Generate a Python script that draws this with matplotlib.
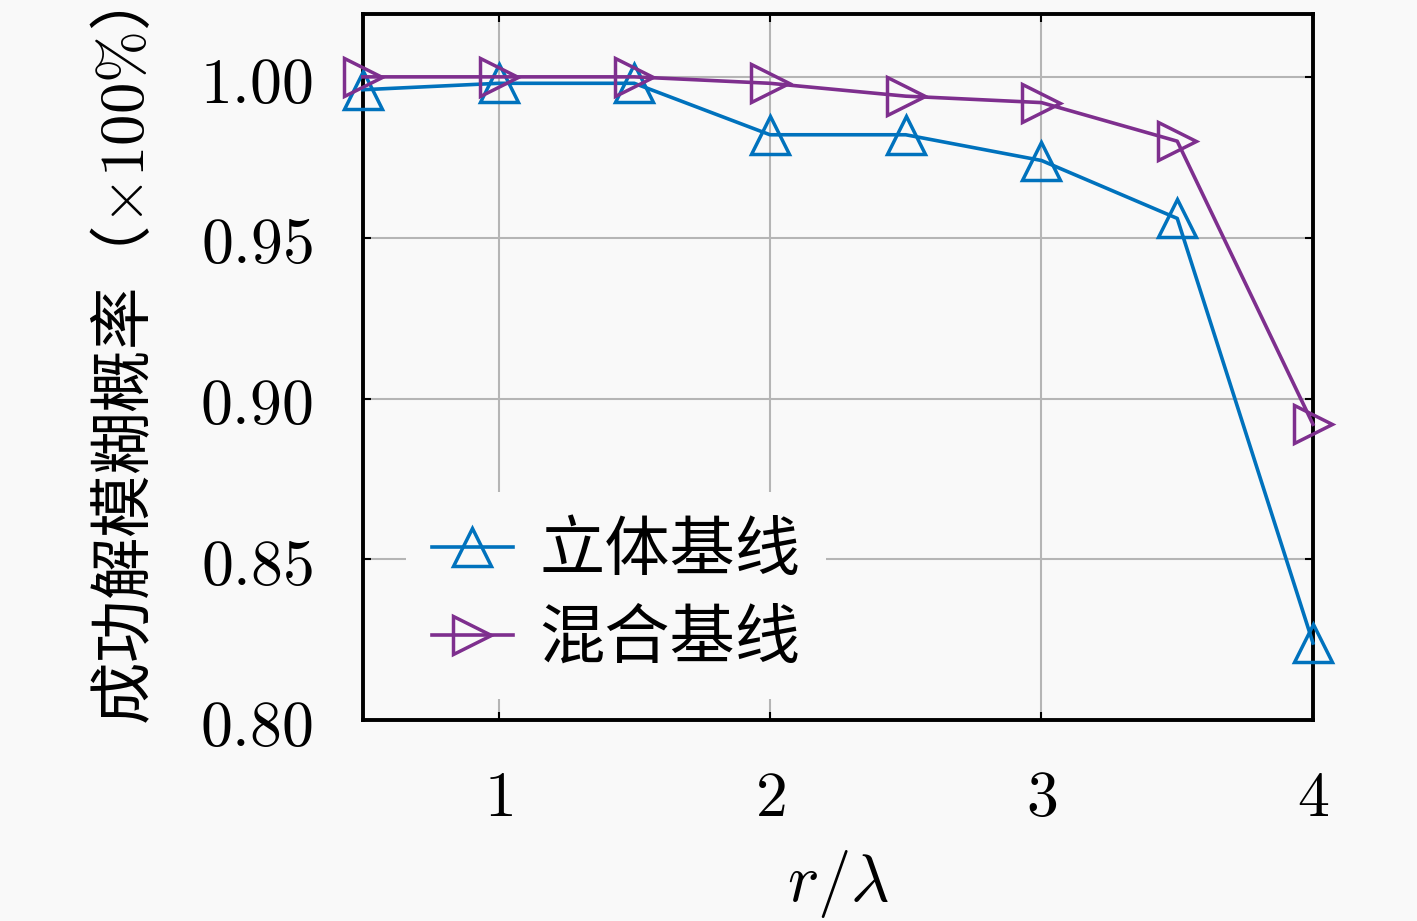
import matplotlib
matplotlib.use('Agg')
import matplotlib.pyplot as plt

plt.rcParams['font.family'] = ['Noto Sans CJK SC', 'DejaVu Sans']
plt.rcParams['mathtext.fontset'] = 'cm'

ratio = [0.5, 1.0, 1.5, 2.0, 2.5, 3.0, 3.5, 4.0]
stereo = [0.996, 0.998, 0.998, 0.982, 0.982, 0.974, 0.956, 0.824]
hybrid = [1.000, 1.000, 1.000, 0.998, 0.994, 0.992, 0.980, 0.892]
xticks = [1, 2, 3, 4]
yticks = [0.80, 0.85, 0.90, 0.95, 1.00]

bg = '#f9f9f9'
blue = '#0072BD'
purple = '#7E2F8E'

fig = plt.figure(figsize=(14.17, 9.21), dpi=100, facecolor=bg)
ax = fig.add_axes([0.256, 0.218, 0.6706, 0.767], facecolor=bg)

ax.plot(ratio, stereo, color=blue, lw=2.6, marker='^', ms=28, mfc='none',
        mew=2.5, label='立体基线', clip_on=False, zorder=3)
ax.plot(ratio, hybrid, color=purple, lw=2.6, marker='>', ms=28, mfc='none',
        mew=2.5, label='混合基线', clip_on=False, zorder=3)

ax.set_xlim(0.5, 4.0)
ax.set_ylim(0.80, 1.0196)
ax.set_xticks(xticks)
ax.set_xticklabels(['$%d$' % t for t in xticks])
ax.set_yticks(yticks)
ax.set_yticklabels(['$%.2f$' % t for t in yticks])
ax.tick_params(direction='in', length=6, width=1.5, labelsize=46,
               top=True, right=True)
ax.tick_params(axis='y', pad=36)
ax.tick_params(axis='x', pad=32)

ax.grid(True, color='#b5b5b5', lw=1.5)
ax.set_axisbelow(True)
for s in ax.spines.values():
    s.set_linewidth(2.8)

ax.set_xlabel(r'$r/\lambda$', fontsize=48, labelpad=12)
ax.set_ylabel('成功解模糊概率（$\\times100\\%$）', fontsize=45, labelpad=30)

leg = ax.legend(loc='lower left', bbox_to_anchor=(0.045, 0.03), fontsize=47,
                frameon=True, handlelength=1.25, handletextpad=0.4,
                labelspacing=0.33, borderaxespad=0)
leg.get_frame().set_facecolor(bg)
leg.get_frame().set_edgecolor('none')
leg.get_frame().set_alpha(1)

fig.savefig('out.png', dpi=100, facecolor=bg)
